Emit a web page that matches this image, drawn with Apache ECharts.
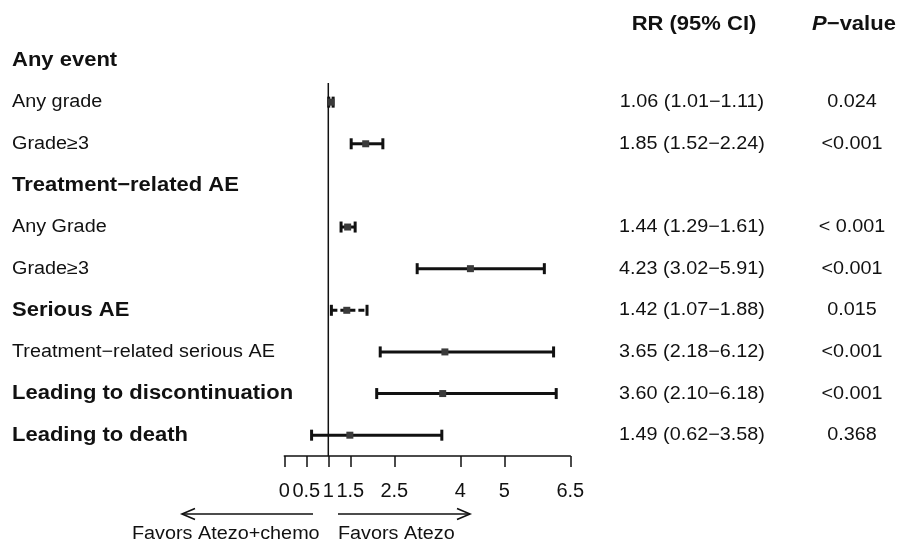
<!DOCTYPE html>
<html><head><meta charset="utf-8">
<script src="https://cdn.jsdelivr.net/npm/echarts@6/dist/echarts.min.js"></script>
<style>html,body{margin:0;padding:0;background:#fff}#c{width:897px;height:543px}</style>
</head><body><div id="c"></div>
<script>
// ---- data ----
const rowLabels = ['Any event','Any grade','Grade\u22653','Treatment\u2212related AE','Any Grade','Grade\u22653','Serious AE','Treatment\u2212related serious AE','Leading to discontinuation','Leading to death'];
const isHeader = [1,0,0,1,0,0,1,0,1,1];
const rrValues = [null,1.06,1.85,null,1.44,4.23,1.42,3.65,3.60,1.49];
const ciLow    = [null,1.01,1.52,null,1.29,3.02,1.07,2.18,2.10,0.62];
const ciHigh   = [null,1.11,2.24,null,1.61,5.91,1.88,6.12,6.18,3.58];
const pValues  = ['','0.024','<0.001','','< 0.001','<0.001','0.015','<0.001','<0.001','0.368'];
const xTicks   = [0,0.5,1,1.5,2.5,4,5,6.5];
const refValue = 1;
const dashedRows = [6];
const favorLeft = 'Favors Atezo+chemo';
const favorRight = 'Favors Atezo';

// ---- styling ----
const FONT = '"Liberation Sans", Arial, Helvetica, sans-serif';
const SX = 1.1;
const INK = '#111';

const chart = echarts.init(document.getElementById('c'));
const rows = rowLabels.map((_, i) => i);
const ciData = rows.filter(i => rrValues[i] != null).map(i => [ciLow[i], ciHigh[i], rrValues[i], i]);
const fmt = v => v.toFixed(2);

const option = {
  animation: false,
  backgroundColor: '#fff',
  grid: {left: 284.3, width: 286, top: 39.7, height: 416.3},
  xAxis: {
    type: 'value', min: 0, max: 6.5,
    splitLine: {show: false},
    axisLine: {show: true, lineStyle: {color: INK, width: 1.5}},
    axisTick: {show: true, customValues: xTicks, length: 11, lineStyle: {color: INK, width: 1.5}},
    axisLabel: {customValues: xTicks, margin: 25, fontSize: 20, color: INK, fontFamily: FONT,
      formatter: v => String(v)}
  },
  yAxis: {type: 'category', inverse: true, data: rows.map(String), show: false},
  series: [
    { // reference line
      type: 'custom', clip: false, silent: true,
      data: [[refValue, 0]],
      encode: {x: 0, y: 1},
      renderItem(params, api) {
        const x = api.coord([api.value(0), 0])[0];
        const band = api.size([0, 1])[1];
        const y0 = api.coord([0, 0])[1] + band * 0.54;
        const y1 = api.coord([0, rows.length - 1])[1] + band / 2;
        return {type: 'line', shape: {x1: x, y1: y0, x2: x, y2: y1}, style: {stroke: INK, lineWidth: 1.5}};
      }
    },
    { // CI bars
      type: 'custom', clip: false, silent: true,
      data: ciData,
      encode: {x: [0, 1, 2], y: 3},
      renderItem(params, api) {
        const i = api.value(3);
        const y = api.coord([0, i])[1];
        const x1 = api.coord([api.value(0), i])[0];
        const x2 = api.coord([api.value(1), i])[0];
        const xm = api.coord([api.value(2), i])[0];
        const dashed = dashedRows.indexOf(i) >= 0;
        return {type: 'group', children: [
          {type: 'line', shape: {x1: x1, y1: y, x2: x2, y2: y}, style: {stroke: INK, lineWidth: 3, lineDash: dashed ? [6, 3] : null}},
          {type: 'line', shape: {x1: x1, y1: y - 5.5, x2: x1, y2: y + 5.5}, style: {stroke: INK, lineWidth: 3}},
          {type: 'line', shape: {x1: x2, y1: y - 5.5, x2: x2, y2: y + 5.5}, style: {stroke: INK, lineWidth: 3}},
          {type: 'rect', shape: {x: xm - 3.5, y: y - 3.5, width: 7, height: 7}, style: {fill: '#3a3a3a'}}
        ]};
      }
    },
    { // table text
      type: 'custom', clip: false, silent: true,
      data: rows.map(i => [0, i]),
      encode: {x: 0, y: 1},
      renderItem(params, api) {
        const i = api.value(1);
        const y = api.coord([0, i])[1];
        const children = [{
          type: 'text', x: 12, y: y, scaleX: SX,
          style: {text: rowLabels[i], fill: INK, font: (isHeader[i] ? 'bold 20px ' : '18px ') + FONT,
                  textAlign: 'left', textVerticalAlign: 'middle'}
        }];
        if (rrValues[i] != null) {
          children.push({
            type: 'text', x: 692, y: y, scaleX: SX,
            style: {text: fmt(rrValues[i]) + ' (' + fmt(ciLow[i]) + '\u2212' + fmt(ciHigh[i]) + ')',
                    fill: INK, font: '18px ' + FONT, textAlign: 'center', textVerticalAlign: 'middle'}
          });
          children.push({
            type: 'text', x: 852, y: y, scaleX: SX,
            style: {text: pValues[i], fill: INK, font: '18px ' + FONT, textAlign: 'center', textVerticalAlign: 'middle'}
          });
        }
        return {type: 'group', children: children};
      }
    }
  ],
  graphic: [
    {type: 'text', x: 694, y: 24, scaleX: SX,
     style: {text: 'RR (95% CI)', fill: INK, font: 'bold 20px ' + FONT, textAlign: 'center', textVerticalAlign: 'middle'}},
    {type: 'text', x: 854, y: 24, scaleX: SX,
     style: {text: '{i|P}{b|\u2212value}', textAlign: 'center', textVerticalAlign: 'middle',
       rich: {i: {fontStyle: 'italic', fontWeight: 'bold', fontSize: 20, fontFamily: FONT, fill: INK},
              b: {fontWeight: 'bold', fontSize: 20, fontFamily: FONT, fill: INK}}}},
    // arrows
    {type: 'polyline', shape: {points: [[313, 514], [182, 514]]}, style: {stroke: INK, lineWidth: 1.6, fill: null}},
    {type: 'polyline', shape: {points: [[195, 508.5], [182, 514], [195, 519.5]]}, style: {stroke: INK, lineWidth: 1.6, fill: null}},
    {type: 'polyline', shape: {points: [[338, 514], [470, 514]]}, style: {stroke: INK, lineWidth: 1.6, fill: null}},
    {type: 'polyline', shape: {points: [[457, 508.5], [470, 514], [457, 519.5]]}, style: {stroke: INK, lineWidth: 1.6, fill: null}},
    {type: 'text', x: 132, y: 534, scaleX: SX,
     style: {text: favorLeft, fill: INK, font: '18px ' + FONT, textAlign: 'left', textVerticalAlign: 'middle'}},
    {type: 'text', x: 338, y: 534, scaleX: SX,
     style: {text: favorRight, fill: INK, font: '18px ' + FONT, textAlign: 'left', textVerticalAlign: 'middle'}}
  ]
};
chart.setOption(option);
</script>
</body></html>
